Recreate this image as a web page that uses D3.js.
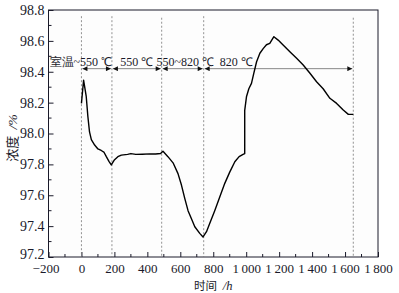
<!DOCTYPE html>
<html><head><meta charset="utf-8">
<script src="https://cdn.jsdelivr.net/npm/d3@7"></script>
<style>body{margin:0;background:#fff}</style>
</head><body>
<script>
// ---- data ----
const time = [0,13,29,39,49,60,80,100,120,136,151,167,181,201,221,242,280,300,330,370,414,450,480,495,525,556,586,607,627,647,667,688,718,738,759,779,809,840,870,900,931,957,981,991,991,1002,1016,1032,1046,1063,1083,1103,1123,1143,1168,1194,1224,1265,1306,1346,1387,1427,1467,1508,1549,1589,1620,1650];
const conc = [98.195,98.346,98.24,98.11,98.01,97.96,97.925,97.90,97.89,97.88,97.85,97.82,97.796,97.83,97.85,97.86,97.865,97.87,97.865,97.866,97.868,97.867,97.87,97.885,97.85,97.81,97.74,97.666,97.58,97.50,97.45,97.396,97.353,97.33,97.364,97.418,97.50,97.59,97.677,97.75,97.817,97.85,97.865,97.87,98.15,98.24,98.29,98.325,98.39,98.465,98.52,98.55,98.575,98.584,98.627,98.605,98.573,98.53,98.487,98.444,98.39,98.335,98.29,98.228,98.195,98.152,98.124,98.124];
const boundaries = [0,185,487,742,1650];
const stageLabels = ["室温~550 ℃","550 ℃","550~820 ℃","820 ℃"];
const stageLabelX = [-4,335,630,940];   // label centres in hours
const arrowLevel = 98.42;
const xTicks = [-200,0,200,400,600,800,1000,1200,1400,1600,1800];
const yTicks = [97.2,97.4,97.6,97.8,98.0,98.2,98.4,98.6,98.8];

const W=399,H=293, L=48.5, R=378, T=10, B=257;
const svg=d3.select("body").append("svg").attr("width",W).attr("height",H)
  .style("font-family","'Liberation Serif','Times New Roman',serif");
const x=d3.scaleLinear().domain([-200,1800]).range([L,R]);
const y=d3.scaleLinear().domain([97.2,98.8]).range([B,T]);
const ink="#1a1a2a";

svg.append("rect").attr("x",L).attr("y",T).attr("width",R-L).attr("height",B-T)
  .attr("fill","#fdfdfd").attr("stroke",ink).attr("stroke-width",1);

// minor ticks
const xMinor=d3.range(-100,1800,200);
svg.append("g").selectAll("line").data(xMinor).join("line")
  .attr("x1",d=>x(d)).attr("x2",d=>x(d)).attr("y1",B).attr("y2",B-3).attr("stroke",ink);
const yMinor=d3.range(97.3,98.8,0.2);
svg.append("g").selectAll("line").data(yMinor).join("line")
  .attr("x1",L).attr("x2",L+3).attr("y1",d=>y(d)).attr("y2",d=>y(d)).attr("stroke",ink);

const fmtX=d=>{const s=Math.abs(d)>=1000?d3.format(",")(d).replace(",", "\u2009"):String(Math.abs(d));return d<0?"\u2212"+s:s;};
const xa=svg.append("g").attr("transform",`translate(0,${B})`)
  .call(d3.axisBottom(x).tickValues(xTicks).tickSizeInner(-5).tickSizeOuter(0).tickPadding(7).tickFormat(fmtX));
xa.select(".domain").remove();
xa.selectAll("line").attr("stroke",ink);
xa.selectAll("text").attr("font-size",13).attr("fill",ink).attr("font-family","'Liberation Serif',serif");
xa.selectAll("text").filter(d=>d===-200).attr("dx",-3);

const ya=svg.append("g").attr("transform",`translate(${L},0)`)
  .call(d3.axisLeft(y).tickValues(yTicks).tickSizeInner(-5).tickSizeOuter(0).tickPadding(4).tickFormat(d3.format(".1f")));
ya.select(".domain").remove();
ya.selectAll("line").attr("stroke",ink);
ya.selectAll("text").attr("font-size",14).attr("fill",ink).attr("font-family","'Liberation Serif',serif");
ya.selectAll("text").filter(d=>d===97.2).attr("y",-3);

// dashed boundaries
svg.append("g").selectAll("line").data(boundaries).join("line")
  .attr("x1",d=>x(d)).attr("x2",d=>x(d)).attr("y2",B)
  .attr("y1",(d,i)=>i===4||i===2? y(98.75): y(98.76))
  .attr("stroke","#777").attr("stroke-width",0.8).attr("stroke-dasharray","2,2");

// arrows
const defs=svg.append("defs");
defs.append("marker").attr("id","ah").attr("viewBox","0 0 10 10").attr("refX",10).attr("refY",5)
  .attr("markerWidth",7).attr("markerHeight",5).attr("markerUnits","userSpaceOnUse").attr("orient","auto-start-reverse")
  .append("path").attr("d","M0,0L10,5L0,10z").attr("fill","#111");
const segs=d3.pairs(boundaries);
svg.append("g").selectAll("line").data(segs).join("line")
  .attr("x1",d=>x(d[0])+1).attr("x2",d=>x(d[1])-1).attr("y1",y(arrowLevel)).attr("y2",y(arrowLevel))
  .attr("stroke","#888").attr("stroke-width",1)
  .attr("marker-start","url(#ah)").attr("marker-end","url(#ah)");

// stage labels
svg.append("g").selectAll("text").data(stageLabels).join("text")
  .attr("x",(d,i)=>x(stageLabelX[i])).attr("y",y(arrowLevel)-3)
  .attr("text-anchor","middle").attr("font-size",12).attr("fill",ink)
  .text(d=>d);

// curve
svg.append("path").datum(time.map((t,i)=>[t,conc[i]]))
  .attr("d",d3.line().x(d=>x(d[0])).y(d=>y(d[1])))
  .attr("fill","none").attr("stroke","#000").attr("stroke-width",1.4).attr("stroke-linejoin","round");

// axis titles
svg.append("text").attr("x",(L+R)/2).attr("y",289.5).attr("text-anchor","middle")
  .attr("font-size",12.5).attr("fill",ink)
  .call(t=>{t.append("tspan").attr("font-family","'Noto Sans CJK SC',sans-serif").attr("font-size",11.5).text("时间\u2002");
            t.append("tspan").attr("font-style","italic").text("/h");});
svg.append("text").attr("transform","translate(17,138) rotate(-90)").attr("text-anchor","middle")
  .attr("font-size",13.5).attr("fill",ink)
  .call(t=>{t.append("tspan").attr("font-family","'Noto Sans CJK SC',sans-serif").attr("font-size",13).text("浓度\u2002");
            t.append("tspan").attr("font-style","italic").text("/%");});
</script>
</body></html>
